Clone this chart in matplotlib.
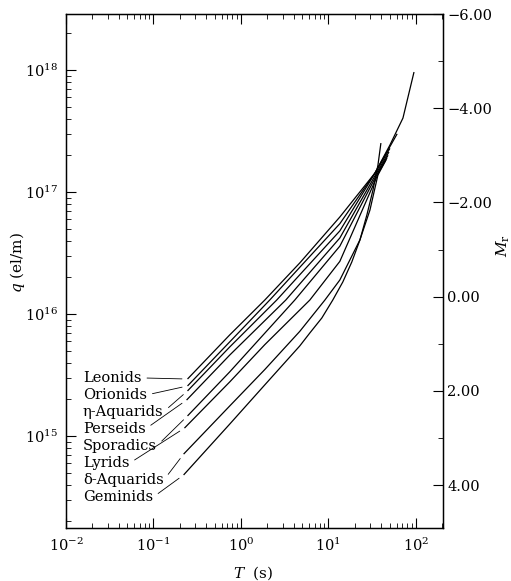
import matplotlib
matplotlib.use('Agg')
import matplotlib.pyplot as plt
from matplotlib.ticker import LogLocator, MultipleLocator, FuncFormatter, NullFormatter

plt.rcParams['font.family'] = ['DejaVu Serif']
plt.rcParams['mathtext.fontset'] = 'dejavuserif'

# ---- data ----
names = ['Leonids', 'Orionids', 'η-Aquarids', 'Perseids',
         'Sporadics', 'Lyrids', 'δ-Aquarids', 'Geminids']

T_leonids = [0.245, 0.743, 1.87, 4.70, 13.5, 34.0, 50.5, 71.1, 95.1]
q_leonids = [2.93e15, 6.73e15, 1.30e16, 2.62e16, 6.24e16, 1.43e17, 2.43e17, 4.04e17, 9.63e17]

T_orionids = [0.245, 0.743, 2.13, 13.5, 34.0, 48.0, 61.0]
q_orionids = [2.57e15, 5.9e15, 1.3e16, 5.5e16, 1.43e17, 2.21e17, 3.0e17]

T_etaaqr = [0.245, 0.743, 2.56, 13.5, 35.9, 50.5]
q_etaaqr = [2.34e15, 5.36e15, 1.3e16, 4.8e16, 1.52e17, 2.28e17]

T_perseids = [0.239, 0.743, 3.25, 13.5, 36.8, 49.2]
q_perseids = [1.97e15, 4.6e15, 1.3e16, 4.2e16, 1.5e17, 2.13e17]

T_sporadics = [0.245, 0.743, 4.12, 13.5, 37.8, 48.0]
q_sporadics = [1.46e15, 3.35e15, 1.3e16, 3.6e16, 1.5e17, 2.0e17]

T_lyrids = [0.226, 0.743, 1.87, 6.12, 13.5, 37.8, 46.7]
q_lyrids = [1.16e15, 2.77e15, 5.6e15, 1.3e16, 2.7e16, 1.46e17, 1.9e17]

T_deltaaqr = [0.221, 0.743, 1.87, 4.70, 9.1, 13.5, 22.9, 29.8, 36.8, 45.5]
q_deltaaqr = [7.1e14, 1.76e15, 3.5e15, 7.2e15, 1.3e16, 1.9e16, 4.05e16, 7.1e16, 1.38e17, 1.83e17]

T_geminids = [0.221, 0.743, 1.87, 4.70, 6.12, 8.40, 11.2, 14.6, 18.5, 22.9, 27.5, 32.3, 36.8, 39.8]
q_geminids = [4.79e14, 1.25e15, 2.62e15, 5.47e15, 6.98e15, 9.27e15, 1.3e16, 1.83e16,
              2.67e16, 4.04e16, 6.48e16, 1.04e17, 1.66e17, 2.52e17]

series = [(T_leonids, q_leonids), (T_orionids, q_orionids), (T_etaaqr, q_etaaqr),
          (T_perseids, q_perseids), (T_sporadics, q_sporadics), (T_lyrids, q_lyrids),
          (T_deltaaqr, q_deltaaqr), (T_geminids, q_geminids)]

# ---- figure ----
W, H = 511, 581
fig = plt.figure(figsize=(W / 100, H / 100), dpi=100)
L, R, Tp, B = 66, 443, 14, 528
ax = fig.add_axes([L / W, 1 - B / H, (R - L) / W, (B - Tp) / H])

for T, q in series:
    ax.plot(T, q, color='black', lw=0.9, solid_capstyle='butt', solid_joinstyle='round')

ax.set_xscale('log')
ax.set_yscale('log')
ax.set_xlim(0.01, 204)
ax.set_ylim(1.76e14, 2.88e18)

ax.xaxis.set_major_locator(LogLocator(base=10, numticks=12))
ax.xaxis.set_minor_locator(LogLocator(base=10, subs=range(2, 10), numticks=40))
ax.yaxis.set_major_locator(LogLocator(base=10, numticks=12))
ax.yaxis.set_minor_locator(LogLocator(base=10, subs=range(2, 10), numticks=40))
ax.xaxis.set_minor_formatter(NullFormatter())
ax.yaxis.set_minor_formatter(NullFormatter())

ax.tick_params(which='both', direction='in', top=True, right=False, labelsize=10.5)
ax.tick_params(which='major', length=7, width=0.8, pad=6)
ax.tick_params(which='minor', length=3.5, width=0.6)
for s in ax.spines.values():
    s.set_linewidth(1.0)

ax.set_ylabel('$q$ (el/m)', fontsize=11)
ax.yaxis.set_label_coords(-0.103, 0.517)
ax.set_xlabel('$T$  (s)', fontsize=11)
ax.xaxis.set_label_coords(0.496, -0.070)

# right magnitude axis
ax2 = ax.twinx()
ax2.set_ylim(4.91, -6)
ax2.yaxis.set_major_locator(MultipleLocator(2))
ax2.yaxis.set_minor_locator(MultipleLocator(1))
ax2.yaxis.set_major_formatter(FuncFormatter(lambda v, p: f'{v:.2f}'.replace('-', '\u2212')))
ax2.tick_params(which='both', direction='in', labelsize=10.5)
ax2.tick_params(which='major', length=7, width=0.8, pad=3)
ax2.tick_params(which='minor', length=3.5, width=0.6)
ax2.set_ylabel('$M_\\mathrm{r}$', fontsize=11)
ax2.yaxis.set_label_coords(1.136, 0.55)

# shower labels with leader lines
label_y = [0.292, 0.259, 0.226, 0.193, 0.160, 0.126, 0.093, 0.060]
for name, (T, q), ly in zip(names, series, label_y):
    ax.annotate(name, xy=(T[0], q[0]), xycoords='data',
                xytext=(0.045, ly), textcoords='axes fraction',
                fontsize=10.5, va='center', ha='left',
                arrowprops=dict(arrowstyle='-', lw=0.6, color='black',
                                shrinkA=2, shrinkB=4, relpos=(1.0, 0.5)))

fig.savefig('out.png', dpi=100)
